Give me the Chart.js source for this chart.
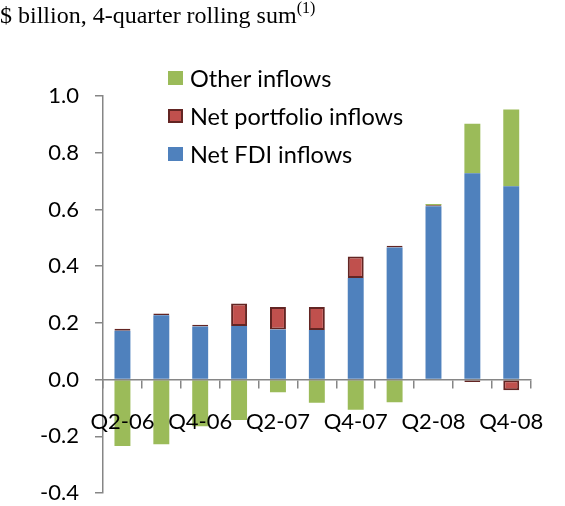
<!DOCTYPE html>
<html>
<head>
<meta charset="utf-8">
<script src="https://cdn.jsdelivr.net/npm/chart.js@4/dist/chart.umd.min.js"></script>
<style>
  html, body { margin: 0; padding: 0; background: #fff; }
  #wrap { position: relative; width: 565px; height: 506px; }
  #unit {
    position: absolute; left: 0; top: 3px;
    font-family: "Liberation Serif", "Times New Roman", serif;
    font-size: 24px; line-height: 24px; color: #000; white-space: nowrap;
  }
  #unit sup { font-size: 16px; vertical-align: 10px; line-height: 0; }
  canvas { position: absolute; left: 0; top: 0; }
</style>
</head>
<body>
<div id="wrap">
  <canvas id="flows" width="565" height="506"></canvas>
  <div id="unit">$ billion, 4-quarter rolling sum<sup>(1)</sup></div>
</div>
<script>
// quarters (every other one gets a label on the axis)
const quarters = ['Q2-06', 'Q3-06', 'Q4-06', 'Q1-07', 'Q2-07', 'Q3-07', 'Q4-07', 'Q1-08', 'Q2-08', 'Q3-08', 'Q4-08'];

// values, $ billion
const netFdi       = [0.172, 0.227, 0.187, 0.189, 0.177, 0.175, 0.358, 0.466, 0.611, 0.728, 0.682];
const netPortfolio = [0.007, 0.006, 0.006, 0.079, 0.079, 0.081, 0.076, 0.006, 0.004, -0.009, -0.038];
const otherInflows = [-0.234, -0.228, -0.165, -0.143, -0.045, -0.082, -0.106, -0.080, 0.004, 0.174, 0.270];

const yTicks = [-0.4, -0.2, 0.0, 0.2, 0.4, 0.6, 0.8, 1.0];

const axisGrey = '#868686';
const font = { family: 'Lato', size: 22 };

// legend drawn inside the plot, top-left, in reverse dataset order
const insideLegend = {
    id: 'insideLegend',
    afterDraw(chart) {
        const ctx = chart.ctx;
        const items = chart.data.datasets.slice().reverse();
        ctx.save();
        ctx.font = '23.5px Lato';
        ctx.textBaseline = 'middle';
        items.forEach((ds, i) => {
            const cy = 78 + i * 38;
            ctx.fillStyle = ds.backgroundColor;
            ctx.fillRect(168, cy - 7, 15, 14);
            if (ds.borderWidth) {
                ctx.strokeStyle = ds.borderColor;
                ctx.lineWidth = 2;
                ctx.strokeRect(169, cy - 6, 13, 12);
            }
            ctx.fillStyle = '#000';
            ctx.fillText(ds.label, 190, cy + 1);
        });
        ctx.restore();
    }
};

new Chart(document.getElementById('flows'), {
    type: 'bar',
    data: {
        labels: quarters,
        datasets: [
            {
                label: 'Net FDI inflows',
                data: netFdi,
                backgroundColor: '#4F81BD',
                borderWidth: 0
            },
            {
                label: 'Net portfolio inflows',
                data: netPortfolio,
                backgroundColor: '#C0504D',
                borderColor: '#632523',
                borderWidth: 2,
                borderSkipped: false
            },
            {
                label: 'Other inflows',
                data: otherInflows,
                backgroundColor: '#9BBB59',
                borderWidth: 0
            }
        ]
    },
    options: {
        responsive: false,
        animation: false,
        barPercentage: 0.41,
        categoryPercentage: 1,
        layout: { padding: { left: 0, right: 16, top: 96, bottom: 13 } },
        plugins: {
            legend: { display: false },
            tooltip: { enabled: false }
        },
        scales: {
            x: {
                stacked: true,
                position: { y: 0 },
                grid: { drawOnChartArea: false, drawTicks: true, tickLength: 8, color: axisGrey, lineWidth: 1.5 },
                border: { color: axisGrey, width: 1.5, z: 1 },
                ticks: {
                    z: 1, // labels sit on top of the negative bars, as in the original
                    color: '#000',
                    font: font,
                    padding: 21,
                    autoSkip: false,
                    maxRotation: 0,
                    callback: (v, i) => (i % 2 === 0 ? quarters[i] : '')
                }
            },
            y: {
                stacked: true,
                min: -0.4,
                max: 1.0,
                afterFit: (s) => {
                    s.width = 103;
                    s.paddingTop = 0;
                    s.paddingBottom = 0;
                },
                afterBuildTicks: (s) => { s.ticks = yTicks.map(v => ({ value: v })); },
                grid: { drawOnChartArea: false, drawTicks: true, tickLength: 8, color: axisGrey, lineWidth: 1.5 },
                border: { color: axisGrey, width: 1.5 },
                ticks: {
                    color: '#000',
                    font: font,
                    padding: 16,
                    callback: (v) => v.toFixed(1)
                }
            }
        }
    },
    plugins: [insideLegend]
});
</script>
</body>
</html>
